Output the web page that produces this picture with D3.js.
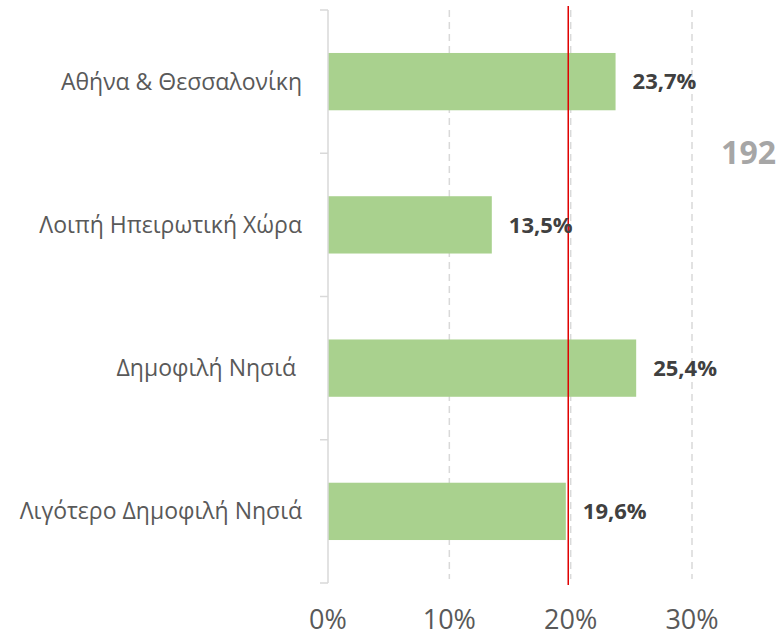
<!DOCTYPE html>
<html>
<head>
<meta charset="utf-8">
<script src="https://cdn.jsdelivr.net/npm/d3@7"></script>
<style>
  body { margin: 0; background: #fff; }
  svg text { font-family: "Open Sans", sans-serif; }
</style>
</head>
<body>
<div id="chart"></div>
<script>
// data
const categories = ["Αθήνα & Θεσσαλονίκη", "Λοιπή Ηπειρωτική Χώρα", "Δημοφιλή Νησιά ", "Λιγότερο Δημοφιλή Νησιά"];
const values = [0.237, 0.135, 0.254, 0.196];
const valueLabels = ["23,7%", "13,5%", "25,4%", "19,6%"];
const xTicks = [0, 0.1, 0.2, 0.3];
const xTickLabels = ["0%", "10%", "20%", "30%"];
const refValue = 0.198;
const sideNote = "192";

const width = 778, height = 636;
const plotLeft = 328, plotTop = 10, plotBottom = 583;

const svg = d3.select("#chart").append("svg")
    .attr("width", width)
    .attr("height", height);

const x = d3.scaleLinear().domain([0, 0.3]).range([plotLeft, plotLeft + 364]);
const y = d3.scaleBand().domain(categories).range([plotTop, plotBottom]).paddingInner(0.6).paddingOuter(0.3);

//Grid lines
svg.append("g").selectAll("line")
    .data(xTicks.slice(1))
    .join("line")
    .attr("x1", d => x(d)).attr("x2", d => x(d))
    .attr("y1", plotTop).attr("y2", plotBottom - 4)
    .attr("stroke", "#d9d9d9")
    .attr("stroke-width", 1.5)
    .attr("stroke-dasharray", "7,5");

//Bars
svg.append("g").selectAll("rect")
    .data(values)
    .join("rect")
    .attr("x", x(0))
    .attr("y", (d, i) => y(categories[i]))
    .attr("width", d => x(d) - x(0))
    .attr("height", y.bandwidth())
    .attr("fill", "#a9d18e");

//Y axis with category ticks at band boundaries
const bounds = d3.range(categories.length + 1).map(i => plotTop + i * (plotBottom - plotTop) / categories.length);
svg.append("line")
    .attr("x1", plotLeft).attr("x2", plotLeft)
    .attr("y1", plotTop).attr("y2", plotBottom)
    .attr("stroke", "#d9d9d9").attr("stroke-width", 1.5);
svg.append("g").selectAll("line")
    .data(bounds)
    .join("line")
    .attr("x1", plotLeft - 8).attr("x2", plotLeft)
    .attr("y1", d => d).attr("y2", d => d)
    .attr("stroke", "#d9d9d9").attr("stroke-width", 1.5);

//Category labels
svg.append("g").selectAll("text")
    .data(categories)
    .join("text")
    .attr("x", 302)
    .attr("y", d => y(d) + y.bandwidth() / 2)
    .attr("dy", "0.35em")
    .attr("text-anchor", "end")
    .attr("font-size", 23)
    .attr("fill", "#595959")
    .style("white-space", "pre")
    .text(d => d);

//Reference line
svg.append("line")
    .attr("x1", x(refValue)).attr("x2", x(refValue))
    .attr("y1", 6).attr("y2", 585)
    .attr("stroke", "#e00000")
    .attr("stroke-width", 1.5);

//Value labels
svg.append("g").selectAll("text")
    .data(values)
    .join("text")
    .attr("x", d => x(d) + 17)
    .attr("y", (d, i) => y(categories[i]) + y.bandwidth() / 2)
    .attr("dy", "0.35em")
    .attr("font-size", 22)
    .attr("font-weight", "bold")
    .attr("fill", "#404040")
    .text((d, i) => valueLabels[i]);

//X tick labels
svg.append("g").selectAll("text")
    .data(xTicks)
    .join("text")
    .attr("x", d => x(d))
    .attr("y", 629)
    .attr("text-anchor", "middle")
    .attr("font-size", 27)
    .attr("fill", "#595959")
    .text((d, i) => xTickLabels[i]);

svg.append("text")
    .attr("x", 776)
    .attr("y", 153)
    .attr("dy", "0.35em")
    .attr("text-anchor", "end")
    .attr("font-size", 32)
    .attr("font-weight", "bold")
    .attr("fill", "#a6a6a6")
    .text(sideNote);
</script>
</body>
</html>
